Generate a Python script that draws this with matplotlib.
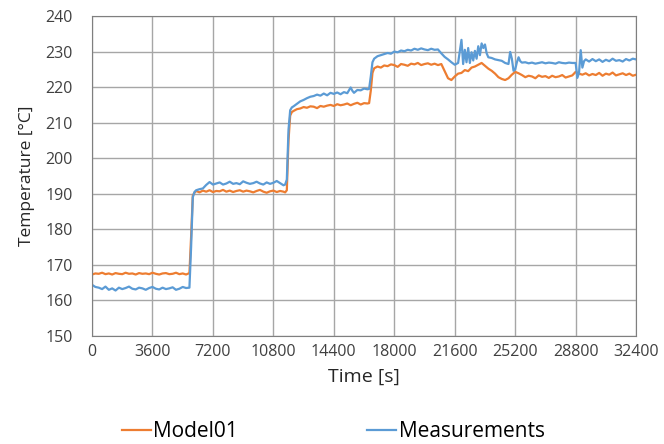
import numpy as np
import matplotlib.pyplot as plt

plt.rcParams['font.family'] = ['Open Sans', 'DejaVu Sans']

# Model01 (simulated temperature)
model_t = list(range(0, 5801, 200)) + [5900, 6000, 6100] + list(range(6200, 11401, 200)) + \
    [11500, 11600, 11700, 11800, 11900] + list(range(12000, 16401, 200)) + \
    [16500, 16600, 16700, 16800] + list(range(17000, 20801, 200)) + \
    list(range(21000, 25601, 200)) + list(range(25800, 28401, 200)) + \
    [28600, 28800, 29000] + list(range(29200, 32401, 200))
model_T = [167.3, 167.6, 167.5, 167.8, 167.4, 167.6, 167.3, 167.7, 167.5, 167.4,
           167.8, 167.5, 167.6, 167.3, 167.7, 167.5, 167.6, 167.4, 167.8, 167.5,
           167.3, 167.6, 167.7, 167.4, 167.5, 167.8, 167.4, 167.6, 167.3, 167.7,
           178.0, 189.5, 190.3,
           190.8, 190.4, 190.9, 190.6, 191.0, 190.5, 190.8, 190.7, 191.1, 190.6,
           190.9, 190.5, 190.8, 191.0, 190.6, 190.9, 190.7, 190.4, 190.8, 191.1,
           190.6, 190.3, 190.7, 190.9, 190.5, 190.8, 190.6,
           190.4, 191.0, 205.0, 212.0, 213.0,
           213.3, 213.8, 214.0, 214.4, 214.2, 214.6, 214.5, 214.1, 214.7, 214.5,
           214.8, 215.0, 214.7, 215.2, 214.9, 215.1, 215.4, 214.9, 215.3, 215.6,
           215.1, 215.5, 215.4,
           215.5, 219.0, 224.0, 225.3,
           225.8, 225.5, 226.1, 225.9, 226.4, 226.2, 225.7, 226.5, 226.3, 226.0,
           226.6, 226.4, 226.8, 226.2, 226.5, 226.7, 226.3, 226.6, 226.2, 226.5,
           224.5, 222.5, 222.0, 223.0, 223.8, 224.0, 224.8, 224.5, 225.5, 225.8,
           226.3, 226.8, 226.0, 225.2, 224.6, 223.8, 222.8, 222.3, 222.0, 222.5,
           223.5, 224.3, 223.9, 223.4,
           222.8, 223.2, 223.0, 222.5, 223.3, 222.9, 223.1, 222.6, 223.2, 222.8,
           223.0, 223.4, 222.7, 223.0,
           223.3, 224.3, 223.8,
           223.5, 223.9, 223.3, 223.7, 223.4, 224.0, 223.2, 223.8, 223.5, 224.1,
           223.3, 223.6, 223.9, 223.4, 223.8, 223.2, 223.5]

# Measured temperature
meas_t = list(range(0, 5801, 200)) + [5900, 6000, 6100, 6200, 6400, 6600, 6800, 7000, 7200] + \
    list(range(7400, 11201, 200)) + [11400, 11500, 11600, 11700, 11800, 11900] + \
    list(range(12000, 15401, 200)) + [15500] + list(range(15600, 16401, 200)) + \
    [16500, 16600, 16700, 16800] + list(range(17000, 20801, 200)) + \
    list(range(21000, 21801, 200)) + list(range(21900, 23601, 100)) + \
    list(range(23800, 24801, 200)) + list(range(24900, 25601, 100)) + \
    list(range(25800, 28801, 200)) + [28900, 29000, 29100, 29200, 29300] + \
    list(range(29400, 32401, 200))
meas_T = [164.4, 163.8, 163.6, 163.2, 163.9, 163.0, 163.4, 162.8, 163.6, 163.2,
          163.5, 163.9, 163.3, 163.1, 163.6, 163.4, 163.0, 163.5, 163.8, 163.3,
          163.1, 163.6, 163.2, 163.4, 163.7, 163.0, 163.3, 163.8, 163.5, 163.6,
          175.0, 189.0, 190.5, 191.0, 191.3, 191.5, 192.5, 193.3, 192.6,
          192.9, 193.2, 192.6, 192.9, 193.4, 192.8, 193.0, 192.7, 193.5, 193.1,
          192.8, 193.0, 193.4, 192.9, 192.6, 193.2, 192.8, 193.1, 193.6, 193.0,
          192.4, 192.6, 194.0, 208.0, 213.5, 214.3,
          214.6, 215.3, 216.0, 216.4, 216.9, 217.3, 217.5, 217.9, 217.6, 218.2,
          217.7, 218.4, 218.1, 218.5, 218.0, 218.6, 218.3, 219.9,
          219.0,
          218.4, 219.2, 219.1, 219.6, 219.4,
          219.5, 223.0, 227.0, 228.0,
          228.7, 229.0, 229.3, 229.6, 229.4, 230.0, 229.8, 230.3, 230.1, 230.5,
          230.3, 230.8, 230.5, 230.9, 230.6, 230.4, 230.8, 230.5, 230.6, 229.5,
          228.5, 227.8, 227.0, 226.3, 226.8,
          230.0, 233.3, 226.5, 230.5, 227.0, 231.0, 226.8, 229.8, 227.5, 230.2,
          228.0, 231.5, 229.0, 232.3, 231.0, 232.0, 229.5, 228.4,
          228.2, 227.8, 227.6, 227.4, 226.8, 226.5,
          229.9, 228.0, 224.6, 225.0, 227.0, 228.4, 227.3, 226.9,
          227.0, 226.7, 226.9, 226.6, 226.8, 227.0, 226.7, 226.9, 226.8, 226.6,
          227.0, 226.8, 226.7, 226.9, 226.8, 226.8,
          222.6, 224.0, 230.4, 225.5, 227.3,
          227.8, 227.2, 227.9, 227.3, 227.8, 227.1, 227.7, 227.3, 228.0, 227.4,
          227.6, 227.2, 227.9, 227.5, 228.0, 227.8]

xticks = np.arange(0, 32401, 3600)
yticks = np.arange(150, 241, 10)

fig = plt.figure(figsize=(6.64, 4.44), dpi=100)
ax = fig.add_axes([0.1386, 0.2432, 0.8194, 0.7207])

ax.plot(model_t, model_T, color='#ED7D31', lw=1.6, label='Model01')
ax.plot(meas_t, meas_T, color='#5B9BD5', lw=1.6, label='Measurements')

ax.set_xlim(0, 32400)
ax.set_ylim(150, 240)
ax.set_xticks(xticks)
ax.set_yticks(yticks)
ax.tick_params(length=0, labelsize=11.5, colors='#404040')
ax.tick_params(axis='x', pad=6)
ax.tick_params(axis='y', pad=14)
ax.grid(True, color='#A6A6A6', lw=1)
ax.set_axisbelow(True)
for s in ax.spines.values():
    s.set_color('#7F7F7F')

ax.set_xlabel('Time [s]', fontsize=14, color='#262626', labelpad=5)
ax.set_ylabel('Temperature [°C]', fontsize=12.5, color='#262626', labelpad=7)

fig.legend(loc='center', bbox_to_anchor=(0.502, 0.028), ncol=2, frameon=False,
           fontsize=15, handlelength=1.4, handletextpad=0.1, columnspacing=6.2)

fig.savefig('out.png', dpi=100)
